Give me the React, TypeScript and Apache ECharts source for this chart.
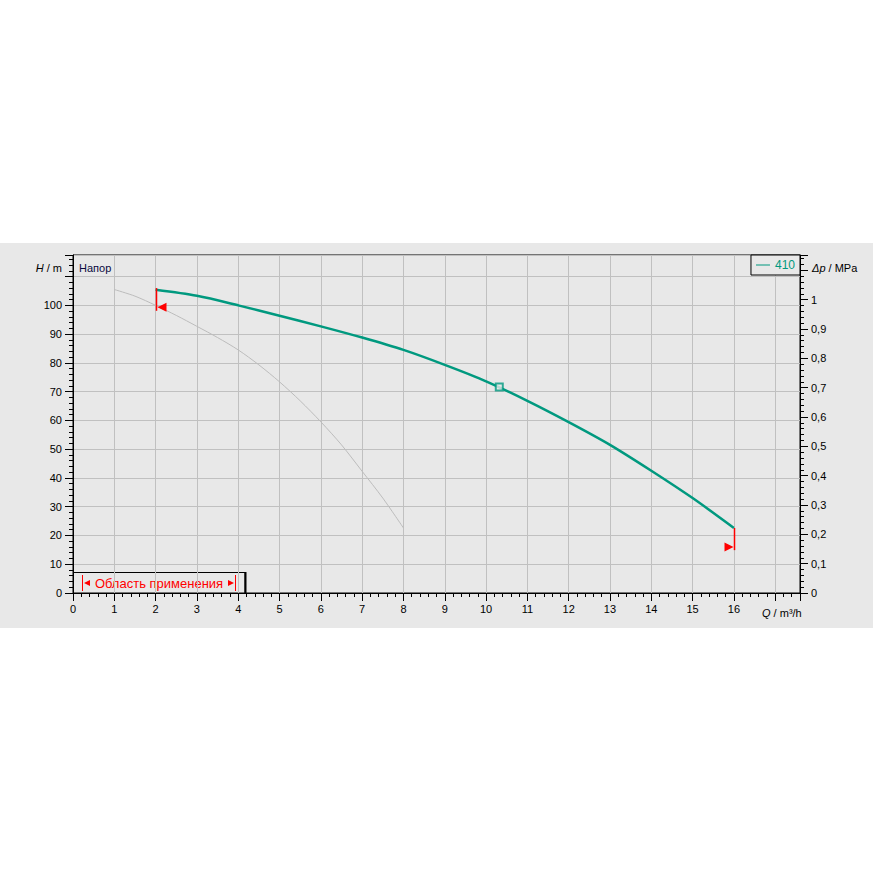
import React, { useEffect, useRef } from "react";
import * as echarts from "echarts";

// Main pump curve (Q in m³/h, H in m)
const Q_MAIN = [2, 3, 4, 5, 6, 7, 8, 9, 10, 11, 12, 13, 14, 15, 16];
const H_MAIN = [105.4, 103.3, 100.0, 96.4, 92.7, 88.8, 84.5, 79.3, 73.6, 66.8, 59.4, 51.5, 42.5, 33.0, 22.6];

// Gray reference curve
const Q_GRAY = [1, 1.5, 2, 2.5, 3, 3.5, 4, 4.5, 5, 5.5, 6, 6.5, 7, 7.5, 8];
const H_GRAY = [105.5, 103.2, 100.0, 96.5, 92.7, 88.8, 84.5, 79.3, 73.4, 66.8, 59.5, 51.5, 42.3, 33.0, 22.6];

// Operating point
const OP_POINT = [10.32, 71.6];

// Application limits: [Q, H top of bar, H bottom of bar, H of triangle, direction]
const LIMITS = [
  [2, 106.0, 98.1, 99.3, 1],
  [16, 22.6, 14.9, 16.0, -1],
];

const SERIES_NAME = "410";
const TEAL = "#00997f";
const BG = "#e8e8e8";
const FONT = "Liberation Sans, Arial, sans-serif";

const H_MAX = 117.5;
const P_MAX = H_MAX / 101.97;
const Q_MAX = 17.6;

export default function App() {
  const ref = useRef<HTMLDivElement>(null);
  useEffect(() => {
    if (!ref.current) return;
    const chart = echarts.init(ref.current, null, { renderer: "svg" });
    const axisCommon = {
      axisLine: { show: true, lineStyle: { color: "#000", width: 1 } },
      axisTick: { show: true, length: 8, lineStyle: { color: "#000" } },
      minorTick: { show: true, splitNumber: 5, length: 4, lineStyle: { color: "#000" } },
      axisLabel: { color: "#000", fontSize: 11, fontFamily: FONT, margin: 11 },
    };
    chart.setOption({
      animation: false,
      textStyle: { fontFamily: FONT },
      grid: {
        left: 73,
        right: 73,
        top: 255,
        bottom: 280,
        show: true,
        backgroundColor: BG,
        borderColor: "#000",
        borderWidth: 1,
        containLabel: false,
      },
      legend: {
        data: [SERIES_NAME],
        right: 73,
        top: 255,
        padding: [4, 5, 4, 5],
        itemWidth: 14,
        itemHeight: 1,
        itemGap: 0,
        icon: "rect",
        backgroundColor: BG,
        borderColor: "#000",
        borderWidth: 1,
        borderRadius: 0,
        textStyle: { color: TEAL, fontSize: 12, fontFamily: FONT },
      },
      xAxis: {
        type: "value",
        min: 0,
        max: Q_MAX,
        interval: 1,
        ...axisCommon,
        axisLabel: {
          ...axisCommon.axisLabel,
          margin: 10,
          formatter: (v: number) => (v > 16.5 ? "" : String(v)),
        },
        splitLine: { show: true, lineStyle: { color: "#c0c0c0", width: 1 } },
      },
      yAxis: [
        {
          type: "value",
          min: 0,
          max: H_MAX,
          interval: 10,
          position: "left",
          ...axisCommon,
          axisLabel: {
            ...axisCommon.axisLabel,
            formatter: (v: number) => (v > 105 ? "" : String(v)),
          },
          splitLine: { show: true, lineStyle: { color: "#c0c0c0", width: 1 } },
        },
        {
          type: "value",
          min: 0,
          max: P_MAX,
          interval: 0.1,
          position: "right",
          ...axisCommon,
          axisLabel: {
            ...axisCommon.axisLabel,
            formatter: (v: number) =>
              v > 1.05 ? "" : String(Math.round(v * 10) / 10).replace(".", ","),
          },
          splitLine: { show: false },
        },
      ],
      series: [
        {
          name: "gray",
          type: "line",
          data: Q_GRAY.map((q, i) => [q, H_GRAY[i]]),
          showSymbol: false,
          smooth: 0.3,
          lineStyle: { color: "#bcbcbc", width: 1 },
          itemStyle: { color: "#bcbcbc" },
          z: 2,
        },
        {
          name: SERIES_NAME,
          type: "line",
          data: Q_MAIN.map((q, i) => [q, H_MAIN[i]]),
          showSymbol: false,
          smooth: 0.3,
          lineStyle: { color: TEAL, width: 2.5 },
          itemStyle: { color: TEAL },
          z: 3,
        },
        {
          name: "limits",
          type: "custom",
          data: LIMITS,
          z: 4,
          renderItem: (params: any, api: any) => {
            const q = api.value(0);
            const top = api.coord([q, api.value(1)]);
            const bot = api.coord([q, api.value(2)]);
            const tri = api.coord([q, api.value(3)]);
            const d = api.value(4);
            const x = Math.round(top[0]) + 0.5;
            return {
              type: "group",
              children: [
                {
                  type: "line",
                  shape: { x1: x, y1: top[1], x2: x, y2: bot[1] },
                  style: { stroke: "#ff0000", lineWidth: 1.5 },
                },
                {
                  type: "polygon",
                  shape: {
                    points: [
                      [x + d * 1, tri[1]],
                      [x + d * 10, tri[1] - 4.5],
                      [x + d * 10, tri[1] + 4.5],
                    ],
                  },
                  style: { fill: "#ff0000" },
                },
              ],
            };
          },
        },
        {
          name: "op",
          type: "scatter",
          data: [OP_POINT],
          symbol: "rect",
          symbolSize: 7,
          itemStyle: { color: BG, borderColor: TEAL, borderWidth: 2 },
          z: 5,
        },
      ],
      graphic: [
        {
          type: "text",
          left: 79,
          top: 262,
          style: { text: "Напор", fill: "#0a0a40", fontSize: 11, fontFamily: FONT },
          z: 10,
        },
        {
          type: "text",
          x: 62,
          y: 268,
          style: {
            text: "{i|H} / m",
            align: "right",
            verticalAlign: "middle",
            fontSize: 11,
            fontFamily: FONT,
            fill: "#000",
            rich: { i: { fontStyle: "italic", fontSize: 11, fontFamily: FONT, fill: "#000" } },
          },
          z: 10,
        },
        {
          type: "text",
          x: 812,
          y: 268,
          style: {
            text: "{i|Δp} / MPa",
            align: "left",
            verticalAlign: "middle",
            fontSize: 11,
            fontFamily: FONT,
            fill: "#000",
            rich: { i: { fontStyle: "italic", fontSize: 11, fontFamily: FONT, fill: "#000" } },
          },
          z: 10,
        },
        {
          type: "text",
          x: 762,
          y: 613,
          style: {
            text: "{i|Q} / m³/h",
            align: "left",
            verticalAlign: "middle",
            fontSize: 11,
            fontFamily: FONT,
            fill: "#000",
            rich: { i: { fontStyle: "italic", fontSize: 11, fontFamily: FONT, fill: "#000" } },
          },
          z: 10,
        },
        {
          type: "group",
          z: 10,
          children: [
            {
              type: "rect",
              shape: { x: 73.5, y: 572.5, width: 171.5, height: 20.5 },
              style: { fill: BG, stroke: "#000", lineWidth: 1 },
            },
            {
              type: "line",
              shape: { x1: 245.5, y1: 572, x2: 245.5, y2: 593 },
              style: { stroke: "#000", lineWidth: 2 },
            },
            {
              type: "line",
              shape: { x1: 82.5, y1: 575, x2: 82.5, y2: 591 },
              style: { stroke: "#ff0000", lineWidth: 1 },
            },
            {
              type: "polygon",
              shape: { points: [[84, 583], [90, 580], [90, 586]] },
              style: { fill: "#ff0000" },
            },
            {
              type: "text",
              x: 159,
              y: 583,
              style: {
                text: "Область применения",
                align: "center",
                verticalAlign: "middle",
                fontSize: 13,
                fontFamily: FONT,
                fill: "#ff0000",
              },
            },
            {
              type: "polygon",
              shape: { points: [[234, 583], [228, 580], [228, 586]] },
              style: { fill: "#ff0000" },
            },
            {
              type: "line",
              shape: { x1: 235.5, y1: 575, x2: 235.5, y2: 591 },
              style: { stroke: "#ff0000", lineWidth: 1 },
            },
          ],
        },
      ],
    });
    return () => chart.dispose();
  }, []);

  return (
    <div style={{ position: "fixed", left: 0, top: 0, width: 873, height: 873, background: "#fff" }}>
      <div
        style={{ position: "absolute", left: 0, top: 243, width: 873, height: 385, background: BG }}
      />
      <div ref={ref} style={{ position: "absolute", left: 0, top: 0, width: 873, height: 873 }} />
    </div>
  );
}
